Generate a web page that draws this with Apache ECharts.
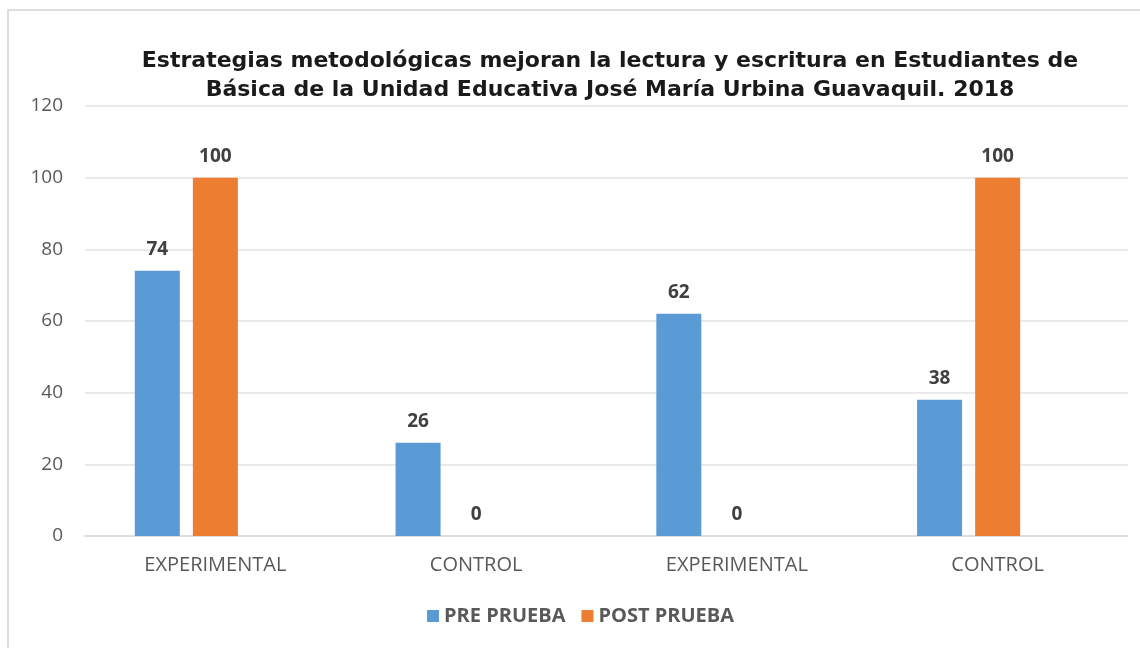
<!DOCTYPE html>
<html>
<head>
<meta charset="utf-8">
<script src="https://cdn.jsdelivr.net/npm/echarts@6/dist/echarts.min.js"></script>
<style>
  html, body { margin: 0; padding: 0; background: #fff; }
  #chart { width: 1140px; height: 648px; }
</style>
</head>
<body>
<div id="chart"></div>
<script>
// datos del gráfico
var categorias = ["EXPERIMENTAL", "CONTROL", "EXPERIMENTAL", "CONTROL"];
var prePrueba = [74, 26, 62, 38];
var postPrueba = [100, 0, 0, 100];
var yTicks = { min: 0, max: 120, interval: 20 };
var titulo = "Estrategias metodológicas mejoran la lectura y escritura en Estudiantes de\nBásica de la Unidad Educativa José María Urbina Guavaquil. 2018";

var labelStyle = {
  show: true,
  position: "top",
  distance: 12,
  color: "#404040",
  fontSize: 19,
  fontWeight: "bold",
  fontFamily: "Open Sans"
};

var chart = echarts.init(document.getElementById("chart"));
chart.setOption({
  animation: false,
  graphic: [{
    type: "rect",
    shape: { x: 8, y: 10, width: 1140, height: 660 },
    style: { fill: "none", stroke: "#d4d4d4", lineWidth: 1.5 },
    silent: true
  }],
  title: {
    text: titulo,
    left: 605,
    textAlign: "center",
    top: 42,
    textStyle: {
      fontFamily: "DejaVu Sans",
      fontWeight: "bold",
      fontSize: 22,
      lineHeight: 29,
      color: "#1a1a1a"
    }
  },
  legend: {
    data: ["PRE PRUEBA", "POST PRUEBA"],
    bottom: 17,
    left: 422,
    itemWidth: 12,
    itemHeight: 12,
    itemGap: 16,
    icon: "rect",
    textStyle: { color: "#595959", fontSize: 20, fontWeight: "bold", fontFamily: "Open Sans" }
  },
  grid: {
    left: 85,
    right: 12,
    top: 106,
    bottom: 112,
    containLabel: false,
    outerBoundsMode: "none"
  },
  xAxis: {
    type: "category",
    data: categorias,
    axisTick: { show: false },
    axisLine: { lineStyle: { color: "#d9d9d9", width: 1.5 } },
    axisLabel: { color: "#595959", fontSize: 20, margin: 19, fontFamily: "Open Sans" }
  },
  yAxis: {
    type: "value",
    min: yTicks.min,
    max: yTicks.max,
    interval: yTicks.interval,
    axisLine: { show: false },
    axisTick: { show: false },
    splitLine: { lineStyle: { color: "#e3e3e3", width: 1.5 } },
    axisLabel: { color: "#595959", fontSize: 19, margin: 22, fontFamily: "Open Sans" }
  },
  series: [
    {
      name: "PRE PRUEBA",
      type: "bar",
      data: prePrueba,
      barWidth: 45,
      barGap: "29%",
      itemStyle: { color: "#5b9bd5" },
      label: labelStyle
    },
    {
      name: "POST PRUEBA",
      type: "bar",
      data: postPrueba,
      barWidth: 45,
      barGap: "29%",
      itemStyle: { color: "#ed7d31" },
      label: labelStyle
    },
    {
      // serie vacía (como en el Excel original), desplaza las barras a la izquierda
      name: "",
      type: "bar",
      data: [null, null, null, null],
      barWidth: 45,
      barGap: "29%"
    }
  ]
});
</script>
</body>
</html>
